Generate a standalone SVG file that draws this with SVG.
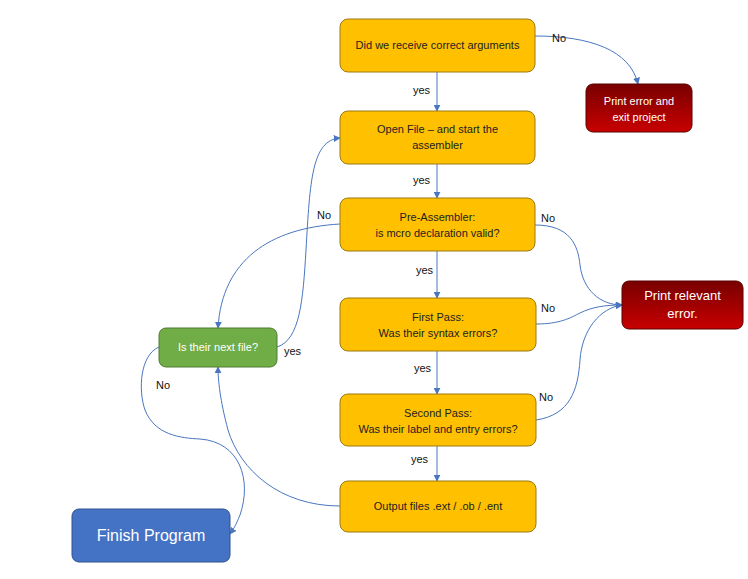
<svg xmlns="http://www.w3.org/2000/svg" width="748" height="579" viewBox="0 0 748 579">
<style>
.box{fill:#FFC000;stroke:#9C7A12;stroke-width:1}
.t{font-family:"Liberation Sans",Arial,sans-serif;font-size:11px;fill:#222;text-anchor:middle}
.w{font-family:"Liberation Sans",Arial,sans-serif;fill:#fff;text-anchor:middle}
.lbl{font-family:"Liberation Sans",Arial,sans-serif;font-size:11px;fill:#111}
.c{fill:none;stroke:#4A76C0;stroke-width:1;marker-end:url(#ah)}
</style>
<defs>
<marker id="ah" viewBox="0 0 10 10" refX="9" refY="5" markerWidth="7" markerHeight="7" orient="auto" markerUnits="userSpaceOnUse">
<path d="M0,0 L10,5 L0,10 z" fill="#4A76C0"/>
</marker>
<linearGradient id="red" x1="0" y1="0" x2="0" y2="1">
<stop offset="0" stop-color="#780000"/>
<stop offset="1" stop-color="#C80000"/>
</linearGradient>
</defs>
<rect width="748" height="579" fill="#fff"/>
<g id="connectors">
<path class="c" d="M437,72 L437,111"/>
<path class="c" d="M437,164 L437,198"/>
<path class="c" d="M437,251 L437,298"/>
<path class="c" d="M437,351 L437,394"/>
<path class="c" d="M437,446 L437,481"/>
<path class="c" d="M535,36 C590,36 630,50 638,84"/>
<path class="c" d="M535,225 C570,225 578,245 580,265 C583,290 600,305 622,305"/>
<path class="c" d="M536,324 C560,324 570,318 580,313 C592,307 605,305 622,305"/>
<path class="c" d="M536,420 C570,415 578,390 580,360 C582,330 600,308 622,305"/>
<path class="c" d="M340,224 C270,228 222,260 218,328"/>
<path class="c" d="M277,347 C300,340 303,300 306,250 C310,180 312,140 340,138"/>
<path class="c" d="M340,506 C280,506 240,470 228,430 C220,400 218,380 218,367"/>
<path class="c" d="M159,347 C140,355 138,390 145,410 C155,435 180,438 200,439 C240,442 252,480 240,515 C236,525 233,530 230,534"/>
</g>
<g id="labels">
<text class="lbl" x="552" y="42">No</text>
<text class="lbl" x="413" y="94">yes</text>
<text class="lbl" x="413" y="184">yes</text>
<text class="lbl" x="317" y="219">No</text>
<text class="lbl" x="541" y="222">No</text>
<text class="lbl" x="416" y="274">yes</text>
<text class="lbl" x="541" y="312">No</text>
<text class="lbl" x="284" y="355">yes</text>
<text class="lbl" x="414" y="372">yes</text>
<text class="lbl" x="156" y="389">No</text>
<text class="lbl" x="539" y="401">No</text>
<text class="lbl" x="411" y="463">yes</text>
</g>
<g id="n1"><rect class="box" x="340" y="19" width="195" height="53" rx="8"/><text class="t" x="437.5" y="49">Did we receive correct arguments</text></g>
<g id="n2"><rect class="box" x="340" y="111" width="195" height="53" rx="8"/><text class="t" x="437.5" y="133">Open File – and start the</text><text class="t" x="437.5" y="149">assembler</text></g>
<g id="n3"><rect class="box" x="340" y="198" width="195" height="53" rx="8"/><text class="t" x="437.5" y="221">Pre-Assembler:</text><text class="t" x="437.5" y="237">is mcro  declaration valid?</text></g>
<g id="n4"><rect class="box" x="340" y="298" width="196" height="53" rx="8"/><text class="t" x="438" y="321">First Pass:</text><text class="t" x="438" y="337">Was their  syntax errors?</text></g>
<g id="n5"><rect class="box" x="340" y="394" width="196" height="52" rx="8"/><text class="t" x="438" y="417">Second Pass:</text><text class="t" x="438" y="433">Was their label and entry errors?</text></g>
<g id="n6"><rect class="box" x="340" y="481" width="196" height="51" rx="8"/><text class="t" x="438" y="510">Output files .ext / .ob / .ent</text></g>
<g id="err1"><rect x="586" y="84" width="106" height="48" rx="7" fill="url(#red)" stroke="#5a0000"/><text class="w" x="639" y="105" font-size="11">Print error and</text><text class="w" x="639" y="121" font-size="11">exit project</text></g>
<g id="err2"><rect x="622" y="281" width="121" height="48" rx="7" fill="url(#red)" stroke="#5a0000"/><text class="w" x="682.5" y="300" font-size="13">Print relevant</text><text class="w" x="682.5" y="318" font-size="13">error.</text></g>
<g id="next"><rect x="159" y="328" width="118" height="39" rx="7" fill="#70AD47" stroke="#4E7D31"/><text class="w" x="218" y="351" font-size="11" fill="#EAF3E3">Is their next  file?</text></g>
<g id="finish"><rect x="72" y="509" width="158" height="53" rx="7" fill="#4472C4" stroke="#2F528F"/><text class="w" x="151" y="541" font-size="16">Finish Program</text></g>
</svg>
